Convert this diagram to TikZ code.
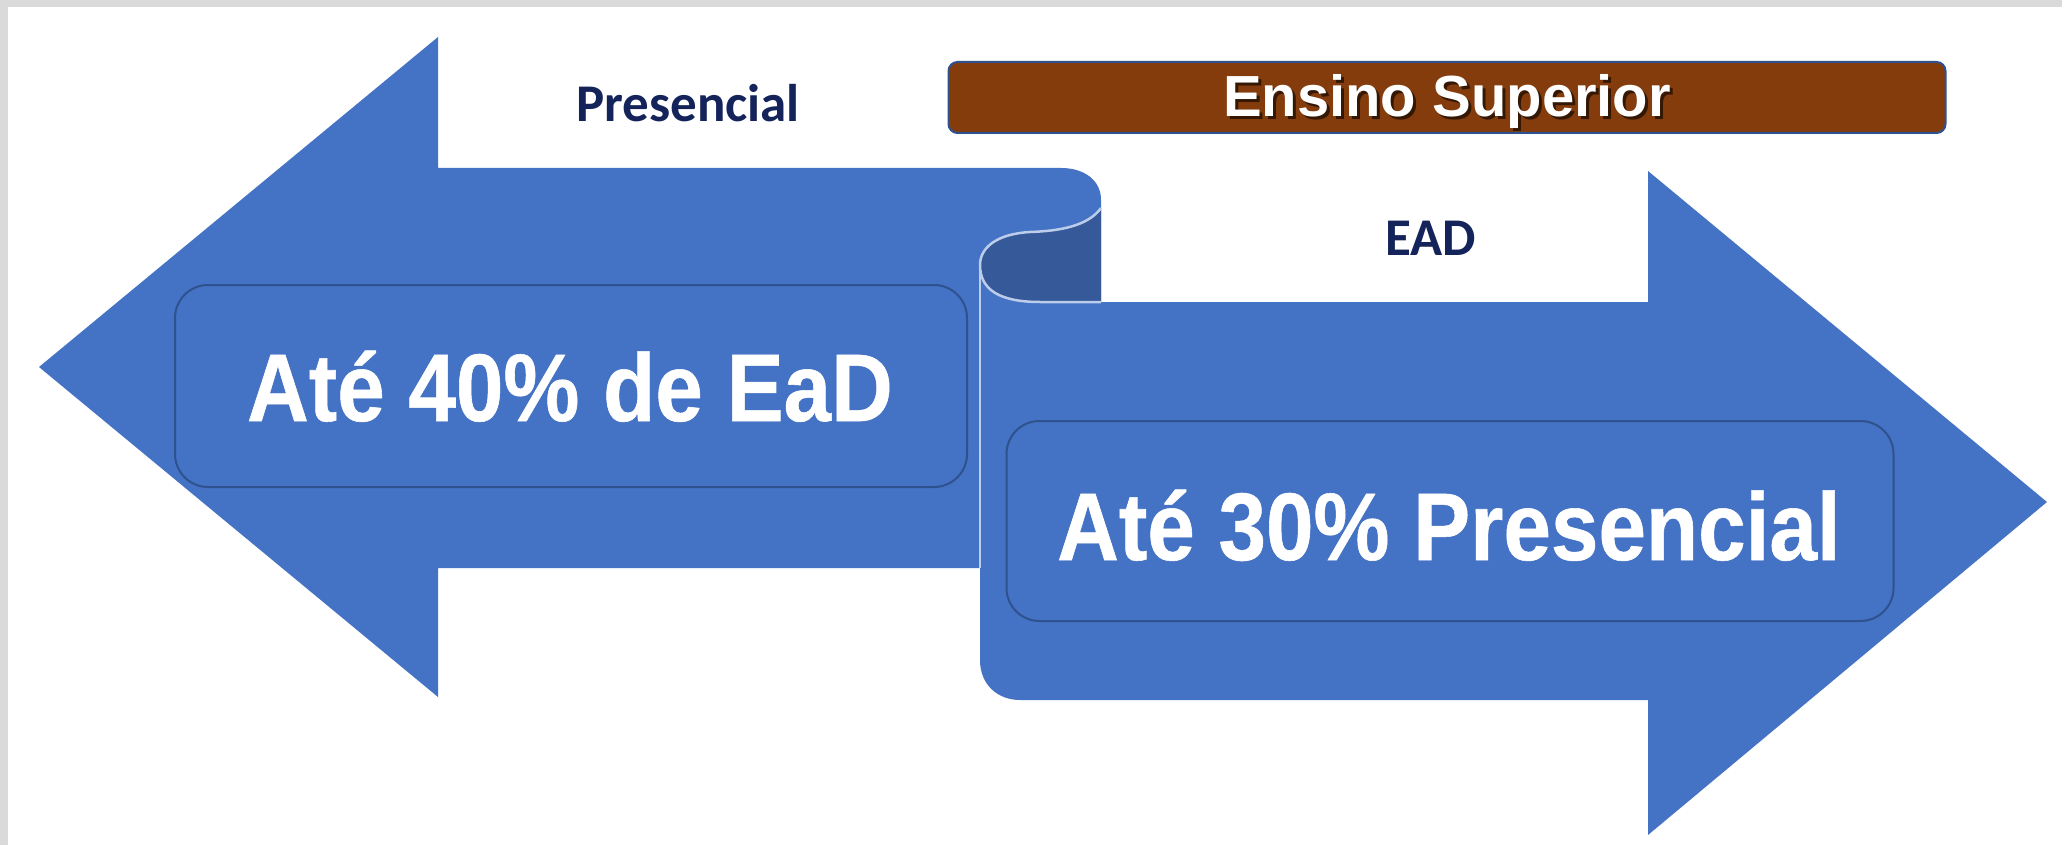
\documentclass[tikz,border=0pt]{standalone}
\usepackage{fontspec}
\setmainfont{Liberation Sans}
\newfontfamily\narrowbold{Liberation Sans}[FakeStretch=0.89,FakeBold=0.6]
\newfontfamily\carl{Carlito}
\definecolor{ablue}{HTML}{4472C4}
\definecolor{dblue}{HTML}{36599A}
\definecolor{bborder}{HTML}{2F528F}
\definecolor{lightline}{HTML}{BCCDEB}
\definecolor{brown}{HTML}{843C0C}
\definecolor{navy}{HTML}{14245A}
\definecolor{framegray}{HTML}{DADADA}
\begin{document}
\begin{tikzpicture}[x=1pt,y=-1pt,
  bigbox/.style={draw=bborder, line width=2pt, fill=ablue, rounded corners=33pt, inner sep=0pt},
  bigtext/.style={text=white, font=\narrowbold\bfseries\fontsize{96}{100}\selectfont, anchor=base, inner sep=0pt},
  smalltext/.style={text=navy, font=\carl\bfseries\fontsize{53}{56}\selectfont, anchor=base, inner sep=0pt},
  titlebox/.style={draw=bborder, line width=2pt, fill=brown, rounded corners=9pt, inner sep=0pt, minimum width=997pt, minimum height=71pt},
  titletext/.style={text=white, font=\bfseries\fontsize{58}{62}\selectfont, anchor=base, inner sep=0pt}]
\useasboundingbox (0,0) rectangle (2062,845);
\fill[white] (0,0) rectangle (2062,845);
\fill[framegray] (0,0) rectangle (2062,7);
\fill[framegray] (0,0) rectangle (8,845);

% left arrow
\fill[ablue] (39,367) -- (438,37) -- (438,168) -- (1061,168)
  .. controls (1084,168) and (1101,180) .. (1101,200) -- (1101,568) -- (438,568) -- (438,697) -- cycle;
% inside of the roll
\fill[dblue] (1101,208) .. controls (1088,226) and (1060,231) .. (1030,232)
  .. controls (996,234) and (980,248) .. (980,265)
  .. controls (980,290) and (1000,302) .. (1040,302) -- (1101,302) -- cycle;
% right arrow
\fill[ablue] (980,265) .. controls (980,290) and (1000,302) .. (1040,302) -- (1648,302) -- (1648,171)
  -- (2047,502) -- (1648,835) -- (1648,700) -- (1020,700)
  .. controls (998,700) and (980,685) .. (980,660) -- cycle;
% highlight of the roll
\draw[lightline, line width=2.5pt] (1101,208) .. controls (1088,226) and (1060,231) .. (1030,232)
  .. controls (996,234) and (980,248) .. (980,265)
  .. controls (980,290) and (1000,302) .. (1040,302) -- (1101,302);
\draw[lightline, line width=2.5pt] (980,265) -- (980,568);

% text boxes
\node[bigbox, minimum width=792pt, minimum height=202pt] (box40) at (571,386) {};
\node[bigtext] (t40) at (570,421) {Até 40\% de EaD};
\node[bigbox, minimum width=887pt, minimum height=200pt] (box30) at (1450,521) {};
\node[bigtext] (t30) at (1449,560) {Até 30\% Presencial};

% title
\node[titlebox] (ensbox) at (1447,97.5) {};
\node[titletext, text=black!75!brown, opacity=0.8] (ensshadow) at (1450,120) {Ensino Superior};
\node[titletext] (ens) at (1447,117) {Ensino Superior};

% labels
\node[smalltext] (pres) at (688,122) {Presencial};
\node[smalltext] (ead) at (1431,256) {EAD};
\end{tikzpicture}
\end{document}
